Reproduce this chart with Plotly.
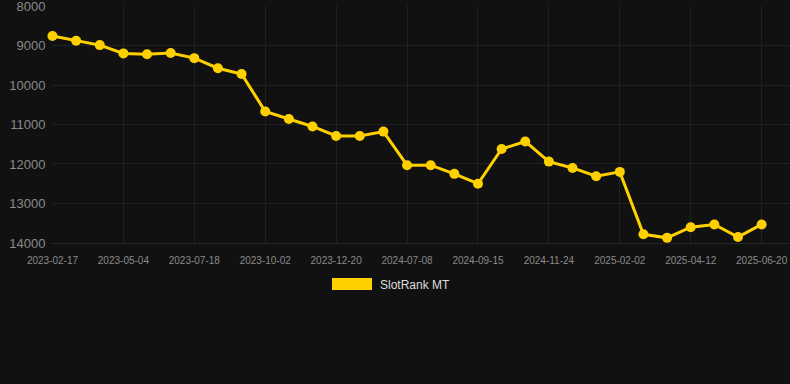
import plotly.graph_objects as go

dates = [
    "2023-02-17", "2023-03-14", "2023-04-09", "2023-05-04", "2023-05-29", "2023-06-23",
    "2023-07-18", "2023-08-12", "2023-09-07", "2023-10-02", "2023-10-28", "2023-11-24",
    "2023-12-20", "2024-03-10", "2024-05-25", "2024-07-08", "2024-07-31", "2024-08-23",
    "2024-09-15", "2024-10-08", "2024-11-01", "2024-11-24", "2024-12-17", "2025-01-09",
    "2025-02-02", "2025-02-25", "2025-03-20", "2025-04-12", "2025-05-05", "2025-05-28",
    "2025-06-20",
]
rank = [
    8760, 8880, 8990, 9200, 9220, 9190, 9320, 9575, 9720, 10670, 10860, 11050,
    11290, 11290, 11180, 12030, 12030, 12250, 12500, 11620, 11430, 11940, 12100, 12310,
    12200, 13780, 13870, 13600, 13530, 13850, 13530,
]
tick_labels = dates[::3]
y_ticks = [8000, 9000, 10000, 11000, 12000, 13000, 14000]
y_tick_text = [str(v) for v in y_ticks]
series_name = "SlotRank MT"

GOLD = "#FFD000"
BG = "#111111"
GRID = "#212121"

fig = go.Figure()
fig.add_trace(go.Scatter(
    x=dates, y=rank, mode="lines+markers", name=series_name,
    line=dict(color=GOLD, width=3),
    marker=dict(color=GOLD, size=10),
    cliponaxis=False,
    showlegend=False,
))

fig.update_layout(
    width=790, height=384,
    margin=dict(l=52, r=0, t=6, b=141),
    paper_bgcolor=BG, plot_bgcolor=BG,
    font=dict(family="Liberation Sans, Arial, sans-serif"),
    xaxis=dict(
        type="category", categoryorder="array", categoryarray=dates,
        range=[-0.02, 31.2],
        tickmode="array", tickvals=tick_labels, ticktext=tick_labels,
        tickangle=0,
        tickfont=dict(size=10, color="#8a8a8a"),
        showgrid=True, gridcolor=GRID, gridwidth=1,
        zeroline=False, showline=True, linecolor="#262626",
        ticks="outside", ticklen=8, tickcolor="rgba(0,0,0,0)",
        ticklabeloverflow="allow",
    ),
    yaxis=dict(
        range=[14000.5, 7999.5],
        tickmode="array", tickvals=y_ticks, ticktext=y_tick_text,
        tickfont=dict(size=13, color="#8a8a8a"),
        showgrid=True, gridcolor=GRID, gridwidth=1,
        zeroline=False, showline=False,
        ticks="outside", ticklen=3, tickcolor="rgba(0,0,0,0)",
        ticklabeloverflow="allow",
    ),
    shapes=[dict(
        type="rect", xref="paper", yref="paper",
        x0=(332 - 52) / 738, x1=(372 - 52) / 738,
        y0=(243 - 290) / 237, y1=(243 - 278) / 237,
        fillcolor=GOLD, line=dict(width=0),
    )],
    annotations=[dict(
        xref="paper", yref="paper",
        x=(378 - 52) / 738, y=(243 - 285) / 237,
        xanchor="left", yanchor="middle", showarrow=False,
        text=series_name, font=dict(size=12, color="#dddddd"),
    )],
)

fig.write_html(
    "out.html",
    config={"displayModeBar": False},
    post_script="document.body.style.margin='0';document.body.style.background='#111111';",
)
